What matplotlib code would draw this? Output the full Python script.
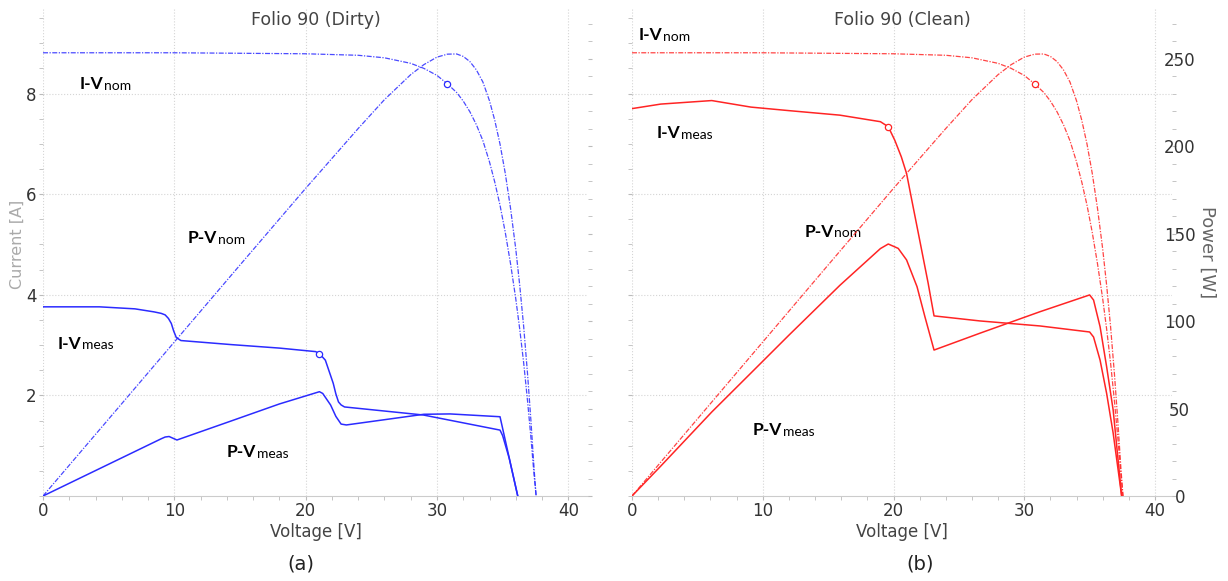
import matplotlib
matplotlib.use('Agg')
import matplotlib.pyplot as plt
from matplotlib.ticker import MultipleLocator

plt.rcParams['font.family'] = 'DejaVu Sans'

# nominal (datasheet) curves, same in both panels
v_nom = [0, 5, 10, 15, 20, 24, 26, 28, 29, 30, 30.8, 31.5, 32, 32.5, 33, 33.5,
         34, 34.4, 34.8, 35.2, 35.6, 36, 36.3, 36.6, 36.9, 37.15, 37.4, 37.55]
i_nom = [8.81, 8.81, 8.81, 8.80, 8.79, 8.76, 8.71, 8.60, 8.50, 8.36, 8.19, 8.02,
         7.85, 7.64, 7.38, 7.06, 6.64, 6.24, 5.78, 5.24, 4.62, 3.92, 3.32, 2.65,
         1.88, 1.17, 0.40, 0.0]
p_nom = [0, 44, 88, 132, 175.8, 210, 226.5, 240.8, 246.5, 250.8, 252.5, 252.6,
         251.2, 248.3, 243.5, 236.5, 225.8, 214.7, 201.1, 184.4, 164.5, 141.1,
         120.5, 97.0, 69.4, 43.5, 15.0, 0]
mpp_nom = (30.8, 8.19)

# measured, dirty module
v_dirty = [0, 4.3, 7.0, 8.45, 9.0, 9.3, 9.55, 9.77, 9.95, 10.15, 10.5, 14.3, 18.0,
           20.76, 21.05, 21.5, 22.1, 22.3, 22.5, 22.7, 22.96, 28.96, 34.8, 35.0,
           35.5, 36.15]
i_dirty = [3.76, 3.76, 3.72, 3.66, 3.63, 3.60, 3.53, 3.43, 3.28, 3.15, 3.09, 3.01,
           2.94, 2.87, 2.83, 2.70, 2.24, 2.03, 1.87, 1.81, 1.77, 1.61, 1.31, 1.20,
           0.75, 0.0]
vp_dirty = [0, 9.0, 9.3, 9.6, 10.2, 14.3, 18.0, 21.05, 21.3, 21.9, 22.3, 22.7,
            23.1, 29.0, 31.0, 34.8, 36.15]
p_dirty = [0, 32.7, 33.7, 34.0, 32.0, 42.8, 52.6, 59.6, 58.6, 52.0, 45.5, 41.1,
           40.6, 46.7, 46.9, 45.3, 0]
mpp_dirty = (21.05, 2.83)

# measured, clean module
v_clean = [0, 2.2, 6.1, 9.1, 12.0, 15.9, 19.0, 19.6, 20.1, 20.6, 21.0, 21.4, 22.0,
           22.65, 23.1, 26.6, 31.2, 35.0, 35.3, 35.8, 36.3, 36.8, 37.45]
i_clean = [7.70, 7.79, 7.86, 7.73, 7.66, 7.57, 7.44, 7.34, 7.07, 6.74, 6.41, 5.88,
           5.09, 4.23, 3.58, 3.48, 3.38, 3.26, 3.16, 2.70, 2.04, 1.25, 0.0]
vp_clean = [0, 2.2, 6.1, 9.1, 12.0, 15.9, 19.0, 19.6, 20.36, 21.0, 21.8, 22.4,
            23.1, 26.6, 31.2, 35.0, 35.3, 35.8, 36.3, 36.8, 37.45]
p_clean = [0, 17.1, 48.0, 70.3, 91.9, 120.4, 141.4, 144.0, 141.5, 134.9, 119.6,
           102.5, 83.4, 93.0, 105.3, 114.9, 112.0, 96.7, 73.9, 49.1, 0]
mpp_clean = (19.6, 7.34)

current_ticks = [2, 4, 6, 8]
power_ticks = [0, 50, 100, 150, 200, 250]

nom_style = dict(linestyle=(0, (4, 1.2, 1, 1.2)), lw=0.9, alpha=0.85)
meas_style = dict(linestyle='-', lw=1.1)


def curve_label(ax, x, y, head, sub):
    t = ax.text(x, y, head, family='Lato', fontweight='bold', fontsize=12.5,
                va='baseline', ha='left', color='black')
    ax.annotate(sub, xy=(1, 0), xycoords=t, xytext=(0.3, 0.4),
                textcoords='offset points', family='Lato', fontsize=10,
                va='bottom', ha='left', color='black')


def panel(rect, xmax, color, v_m, i_m, vp_m, p_m, mpp_m, title, show_current, show_power):
    ax = fig.add_axes(rect)
    axp = ax.twinx()

    ax.plot(v_nom, i_nom, color=color, **nom_style)
    ax.plot(v_m, i_m, color=color, **meas_style)
    ax.plot(*mpp_nom, 'o', ms=4.5, mfc='white', mec=color, mew=0.9)
    ax.plot(*mpp_m, 'o', ms=4.5, mfc='white', mec=color, mew=0.9)
    axp.plot(v_nom, p_nom, color=color, **nom_style)
    axp.plot(vp_m, p_m, color=color, **meas_style)

    ax.set_xlim(0, xmax)
    ax.set_ylim(0, 9.68)
    axp.set_ylim(0, 278.3)

    ax.xaxis.set_major_locator(MultipleLocator(10))
    ax.xaxis.set_minor_locator(MultipleLocator(2))
    ax.set_yticks(current_ticks)
    ax.yaxis.set_minor_locator(MultipleLocator(0.5))
    axp.set_yticks(power_ticks)
    axp.yaxis.set_minor_locator(MultipleLocator(10))

    for a in (ax, axp):
        for s in ('top', 'left', 'right'):
            a.spines[s].set_visible(False)
    ax.spines['bottom'].set_color('#cccccc')
    axp.spines['bottom'].set_visible(False)

    ax.grid(True, which='major', linestyle=':', color='#d5d5d5', lw=0.8)
    ax.set_axisbelow(True)

    ax.tick_params(axis='both', which='both', direction='out', length=3,
                   color='#bbbbbb', labelsize=12, labelcolor='#333333', pad=1.5)
    ax.tick_params(axis='y', labelleft=show_current)
    axp.tick_params(axis='y', which='both', direction='out', length=3,
                    color='#bbbbbb', labelsize=12, labelcolor='#333333', pad=2,
                    labelright=show_power)
    if show_power:
        plt.setp(axp.get_yticklabels(), ha='center')
        axp.tick_params(axis='y', pad=2.5)

    ax.set_xlabel('Voltage [V]', fontsize=12, color='#444444')
    ax.xaxis.set_label_coords(0.5, -0.073)
    ax.xaxis.label.set_va('center')

    ax.text(0.5, 0.977, title, transform=ax.transAxes, ha='center', va='center',
            fontsize=12.5, color='#444444')
    return ax, axp


fig = plt.figure(figsize=(12.28, 5.81), dpi=100)

ax1, ax1p = panel([43 / 1228, 85 / 581, 545 / 1228, 487 / 581], 41.5, '#2b2bff',
                  v_dirty, i_dirty, vp_dirty, p_dirty, mpp_dirty,
                  'Folio 90 (Dirty)', True, False)
ax1.set_ylabel('Current [A]', fontsize=11.5, color='#aaaaaa')
ax1.yaxis.set_label_coords(-0.048, 0.517)
ax1.yaxis.label.set_va('center')

curve_label(ax1, 2.82, 8.08, 'I-V', 'nom')
curve_label(ax1, 11.04, 5.02, 'P-V', 'nom')
curve_label(ax1, 1.12, 2.93, 'I-V', 'meas')
curve_label(ax1, 14.0, 0.77, 'P-V', 'meas')

ax2, ax2p = panel([632 / 1228, 85 / 581, 540 / 1228, 487 / 581], 41.3, '#ff2424',
                  v_clean, i_clean, vp_clean, p_clean, mpp_clean,
                  'Folio 90 (Clean)', False, True)
ax2p.set_ylabel('Power [W]', fontsize=13, color='#666666', rotation=270)
ax2p.yaxis.set_label_coords(1.065, 0.5)
ax2p.yaxis.label.set_va('center')

curve_label(ax2, 0.54, 9.06, 'I-V', 'nom')
curve_label(ax2, 1.91, 7.11, 'I-V', 'meas')
curve_label(ax2, 13.2, 5.15, 'P-V', 'nom')
curve_label(ax2, 9.25, 1.21, 'P-V', 'meas')

fig.text(301 / 1228, 1 - 564 / 581, '(a)', ha='center', va='center', fontsize=14, color='#222222')
fig.text(920 / 1228, 1 - 564 / 581, '(b)', ha='center', va='center', fontsize=14, color='#222222')

fig.savefig('out.png', dpi=100)
